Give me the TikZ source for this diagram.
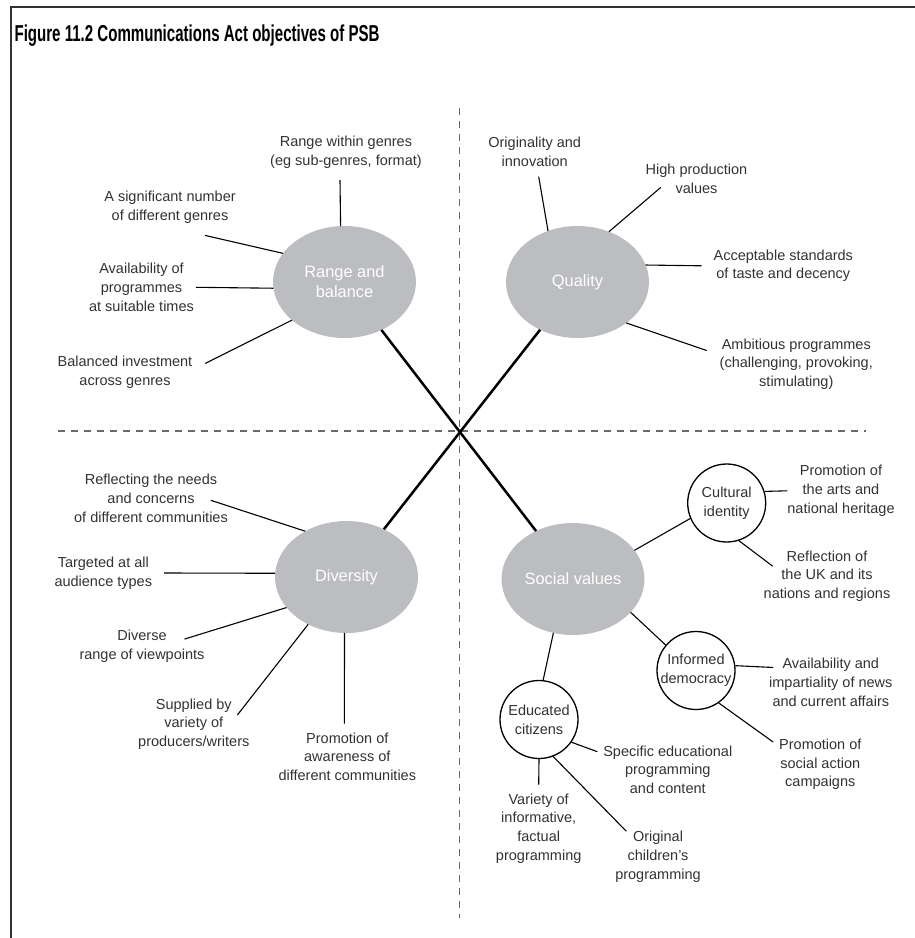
\documentclass[tikz,border=0pt]{standalone}
\usepackage{fontspec}
\setmainfont{Liberation Sans}
\newfontfamily\titlefont[FakeStretch=0.655]{Liberation Sans}
\usetikzlibrary{shapes.geometric}
\definecolor{hubgray}{RGB}{188,189,192}
\definecolor{ink}{RGB}{50,50,50}
\definecolor{rulegray}{RGB}{105,105,105}
\definecolor{framegray}{RGB}{50,50,50}

\begin{document}
\begin{tikzpicture}[x=1pt, y=-1pt, line width=1.1,
  hub/.style={ellipse, fill=hubgray, text=white, minimum width=143, minimum height=112, inner sep=0, outer sep=0, align=center, font=\fontsize{16.4}{20}\selectfont},
  subhub/.style={circle, draw, line width=1.3, fill=white, text=ink, minimum size=78, inner sep=0, align=center, font=\fontsize{14.5}{18.7}\selectfont},
  lbl/.style={text=ink, inner sep=0, outer sep=0, align=center, font=\fontsize{14.5}{18.7}\selectfont},
  divider/.style={rulegray, line width=1.3, dash pattern=on 7pt off 6pt}]
\useasboundingbox (0,0) rectangle (915,938);
\draw[framegray, line width=2] (11,938) -- (11,7) -- (915,7);
\node[anchor=base west, inner sep=0, font=\titlefont\bfseries\fontsize{23}{26}\selectfont] (T) at (14,41) {Figure 11.2 Communications Act objectives of PSB};
\draw[divider] (459.5,108) -- (459.5,918);
\draw[divider] (58,431) -- (866,431);
\node[hub] (RB) at (344.5,282) {Range and\\balance};
\node[hub] (Q) at (577.5,282) {Quality};
\node[hub] (Dv) at (346.5,577) {Diversity};
\node[hub] (SV) at (573,579) {Social values};
\node[subhub] (CI) at (726.7,503) {Cultural\\identity};
\node[subhub] (ID) at (696,670.5) {Informed\\democracy};
\node[subhub] (EC) at (539,719.5) {Educated\\citizens};
\draw[line width=2.5] (RB) -- (SV); \draw[line width=2.5] (Q) -- (Dv);
\node[lbl] (RB1) at (346,152) {Range within genres\\(eg sub-genres, format)};
\node[lbl] (RB2) at (170,207.3) {A significant number\\of different genres};
\node[lbl] (RB3) at (141.5,287.3) {Availability of\\programmes\\at suitable times};
\node[lbl] (RB4) at (125,372.5) {Balanced investment\\across genres};
\node[lbl] (Q1) at (534.7,152) {Originality and\\innovation};
\node[lbl] (Q2) at (696.5,178.8) {High production\\values};
\node[lbl] (Q3) at (783.3,265.8) {Acceptable standards\\of taste and decency};
\node[lbl] (Q4) at (796.3,364) {Ambitious programmes\\(challenging, provoking,\\stimulating)};
\node[lbl] (Dv1) at (151,498.3) {Reflecting the needs\\and concerns\\of different communities};
\node[lbl] (Dv2) at (103.3,573) {Targeted at all\\audience types};
\node[lbl] (Dv3) at (142,646.2) {Diverse\\range of viewpoints};
\node[lbl] (Dv4) at (193.8,724) {Supplied by\\variety of\\producers/writers};
\node[lbl] (Dv5) at (347.3,756.7) {Promotion of\\awareness of\\different communities};
\node[lbl] (CI1) at (841,490.8) {Promotion of\\the arts and\\national heritage};
\node[lbl] (CI2) at (827,576.2) {Reflection of\\the UK and its\\nations and regions};
\node[lbl] (ID1) at (830.8,682.5) {Availability and\\impartiality of news\\and current affairs};
\node[lbl] (ID2) at (820.3,764.5) {Promotion of\\social action\\campaigns};
\node[lbl] (EC1) at (667.8,769.7) {Specific educational\\programming\\and content};
\node[lbl] (EC2) at (538.7,828.5) {Variety of\\informative,\\factual\\programming};
\node[lbl] (EC3) at (658,856.7) {Original\\children’s\\programming};
\draw (RB.94) -- ([xshift=-6pt,yshift=-12pt]RB1.south);
\draw (RB.155) -- ([xshift=35pt,yshift=-12pt]RB2.south);
\draw (RB.185) -- ([xshift=2pt]RB3.east);
\draw (RB.216) -- ([xshift=13pt,yshift=-7pt]RB4.north east);
\draw (Q.120) -- ([xshift=4pt,yshift=-10pt]Q1.south);
\draw (Q.58) -- ([xshift=15pt,yshift=6pt]Q2.south west);
\draw (Q.14) -- ([xshift=-12pt]Q3.west);
\draw (Q.-40) -- ([xshift=-13pt,yshift=-12pt]Q4.north west);
\draw (Dv.132) -- ([xshift=-17pt,yshift=-2pt]Dv1.east);
\draw (Dv.177) -- ([xshift=12pt]Dv2.east);
\draw (Dv.207) -- ([xshift=-20pt,yshift=-9pt]Dv3.north east);
\draw (Dv.231) -- ([xshift=-12pt,yshift=9pt]Dv4.east);
\draw (Dv.268) -- ([xshift=-3pt,yshift=9pt]Dv5.north);
\draw (SV.25) -- (CI.203); \draw (SV.-30) -- (ID.140); \draw (SV.250) -- (EC.84);
\draw (CI.17) -- (CI1.west); \draw (CI.-72) -- ([xshift=9pt,yshift=10pt]CI2.west);
\draw (ID.7) -- ([xshift=4pt,yshift=-9pt]ID1.north west); \draw (ID.-55) -- ([xshift=-6pt,yshift=-3pt]ID2.north west);
\draw (EC.-35) -- ([xshift=-6pt,yshift=-6pt]EC1.north west); \draw (EC.-90) -- ([yshift=9pt]EC2.north); \draw (EC.-69) -- ([xshift=11pt]EC3.north west);
\end{tikzpicture}
\end{document}
